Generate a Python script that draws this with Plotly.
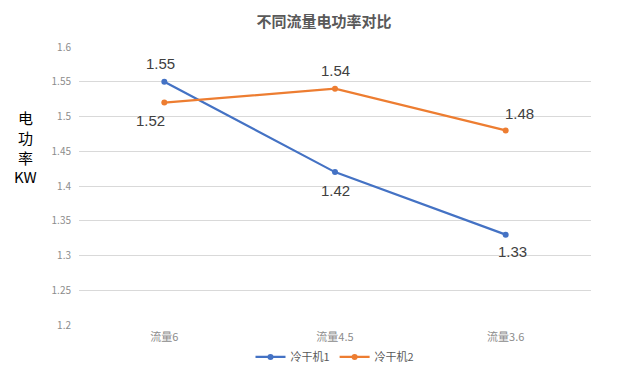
import plotly.graph_objects as go

categories = ["流量6", "流量4.5", "流量3.6"]
series1 = [1.55, 1.42, 1.33]
series2 = [1.52, 1.54, 1.48]
names = ["冷干机1", "冷干机2"]
yticks = [1.2, 1.25, 1.3, 1.35, 1.4, 1.45, 1.5, 1.55, 1.6]
ytitle_lines = ["电", "功", "率", "KW"]

# label offsets (pixels) relative to points
off1 = [(-4, 18), (0, -18), (7, -17)]
off2 = [(-14, -18), (0, 18), (14, 17)]

font_cjk = "Noto Sans CJK SC, Liberation Sans, sans-serif"

fig = go.Figure()
fig.add_trace(go.Scatter(
    x=categories, y=series1, name=names[0], mode="lines+markers",
    line=dict(color="#4472C4", width=2.2), marker=dict(size=6, color="#4472C4"),
))
fig.add_trace(go.Scatter(
    x=categories, y=series2, name=names[1], mode="lines+markers",
    line=dict(color="#ED7D31", width=2.2), marker=dict(size=6, color="#ED7D31"),
))
for vals, offs in ((series1, off1), (series2, off2)):
    for c, v, (dx, dy) in zip(categories, vals, offs):
        fig.add_annotation(x=c, y=v, text=f"{v:.2f}", showarrow=False,
                           xshift=dx, yshift=dy, xanchor="center", yanchor="middle",
                           font=dict(size=15, color="#404040", family="Liberation Sans, sans-serif"))

fig.update_layout(
    width=632, height=366,
    margin=dict(l=71, r=49, t=39, b=49, autoexpand=False),
    paper_bgcolor="white", plot_bgcolor="white",
    title=dict(text="<b>不同流量电功率对比</b>", x=0.5, xanchor="center", yref="container",
               y=0.962, yanchor="middle",
               font=dict(size=15, color="#595959", family=font_cjk)),
    font=dict(family=font_cjk),
    legend=dict(orientation="h", x=0.5, xanchor="center", y=-0.115, yanchor="middle",
                font=dict(size=11, color="#595959"), itemwidth=30),
    showlegend=True,
)
fig.update_xaxes(range=[-0.5, 2.5], showgrid=False, showline=False, ticks="",
                 tickfont=dict(size=11, color="#8c8c8c"), zeroline=False, automargin=False,
                 ticklabelstandoff=4)
fig.update_yaxes(range=[1.2, 1.6], tickvals=yticks, ticktext=[f"{v:g}" for v in yticks],
                 showgrid=True, gridcolor="#d9d9d9", gridwidth=1, zeroline=False,
                 tickfont=dict(size=10, color="#8c8c8c"), ticks="", ticklabelstandoff=7,
                 automargin=False)
for txt, dy in zip(ytitle_lines, [30.5, 10.5, -9.5, -28.5]):
    fig.add_annotation(text=txt, xref="paper", yref="paper", x=-0.105, y=0.635, yshift=dy,
                       xanchor="center", yanchor="middle", showarrow=False,
                       font=dict(size=15, color="#000000", family=font_cjk))

fig.write_html("out.html")
